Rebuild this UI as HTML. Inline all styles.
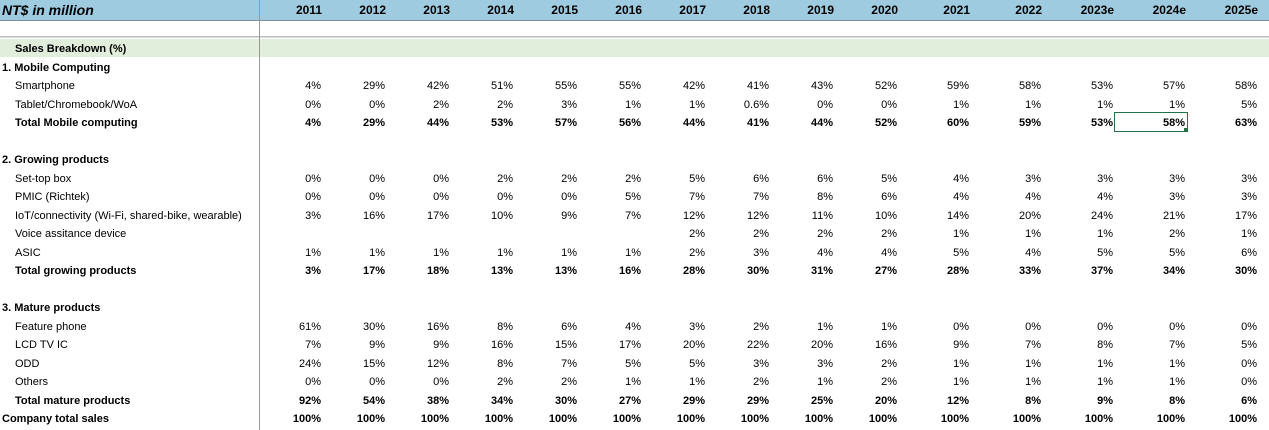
<!DOCTYPE html>
<html><head><meta charset="utf-8"><style>
body{margin:0;width:1269px;height:430px;overflow:hidden;background:#fff;font-family:"Liberation Sans",Arial,sans-serif;position:relative}
.c{position:absolute;font-size:11px;line-height:18px;white-space:nowrap;color:#000}
.b{font-weight:bold}
</style></head><body>
<div style="position:absolute;left:0;top:0;width:1269px;height:20px;background:#9ecbe0;border-bottom:1px solid #7f8f99"></div>
<div style="position:absolute;left:0;top:36px;width:1269px;height:1px;background:#bbb;border-bottom:1px solid #ddd"></div>
<div style="position:absolute;left:0;top:39px;width:1269px;height:18px;background:#e2eedc"></div>
<div style="position:absolute;left:259px;top:0;width:1px;height:430px;background:#999"></div>
<div style="position:absolute;left:1114px;top:112px;width:72px;height:18px;border:1px solid #217346"></div>
<div style="position:absolute;left:1184px;top:128px;width:4px;height:4px;background:#217346"></div>
<div class="c b" style="left:2px;top:1px;font-size:14px;font-style:italic">NT$ in million</div>
<script>
const years=["2011","2012","2013","2014","2015","2016","2017","2018","2019","2020","2021","2022","2023e","2024e","2025e"];
const rowLabels=[["Sales Breakdown (%)",15,1],["1. Mobile Computing",2,1],["Smartphone",15,0],["Tablet/Chromebook/WoA",15,0],["Total Mobile computing",15,1],["",0,0],["2. Growing products",2,1],["Set-top box",15,0],["PMIC (Richtek)",15,0],["IoT/connectivity (Wi-Fi, shared-bike, wearable)",15,0],["Voice assitance device",15,0],["ASIC",15,0],["Total growing products",15,1],["",0,0],["3. Mature products",2,1],["Feature phone",15,0],["LCD TV IC",15,0],["ODD",15,0],["Others",15,0],["Total mature products",15,1],["Company total sales",2,1]];
const smartphone=["4%","29%","42%","51%","55%","55%","42%","41%","43%","52%","59%","58%","53%","57%","58%"];
const tablet=["0%","0%","2%","2%","3%","1%","1%","0.6%","0%","0%","1%","1%","1%","1%","5%"];
const totalMobile=["4%","29%","44%","53%","57%","56%","44%","41%","44%","52%","60%","59%","53%","58%","63%"];
const settop=["0%","0%","0%","2%","2%","2%","5%","6%","6%","5%","4%","3%","3%","3%","3%"];
const pmic=["0%","0%","0%","0%","0%","5%","7%","7%","8%","6%","4%","4%","4%","3%","3%"];
const iot=["3%","16%","17%","10%","9%","7%","12%","12%","11%","10%","14%","20%","24%","21%","17%"];
const voice=["","","","","","","2%","2%","2%","2%","1%","1%","1%","2%","1%"];
const asic=["1%","1%","1%","1%","1%","1%","2%","3%","4%","4%","5%","4%","5%","5%","6%"];
const totalGrowing=["3%","17%","18%","13%","13%","16%","28%","30%","31%","27%","28%","33%","37%","34%","30%"];
const feature=["61%","30%","16%","8%","6%","4%","3%","2%","1%","1%","0%","0%","0%","0%","0%"];
const lcd=["7%","9%","9%","16%","15%","17%","20%","22%","20%","16%","9%","7%","8%","7%","5%"];
const odd=["24%","15%","12%","8%","7%","5%","5%","3%","3%","2%","1%","1%","1%","1%","0%"];
const others=["0%","0%","0%","2%","2%","1%","1%","2%","1%","2%","1%","1%","1%","1%","0%"];
const totalMature=["92%","54%","38%","34%","30%","27%","29%","29%","25%","20%","12%","8%","9%","8%","6%"];
const companyTotal=["100%","100%","100%","100%","100%","100%","100%","100%","100%","100%","100%","100%","100%","100%","100%"];
const rowData={2:smartphone,3:tablet,4:totalMobile,7:settop,8:pmic,9:iot,10:voice,11:asic,12:totalGrowing,15:feature,16:lcd,17:odd,18:others,19:totalMature,20:companyTotal};
function colRight(i){return i<10?321+i*64:897+(i-9)*72;}
function rowTop(r){return 40+r*18.5;}
function add(txt,cls,style){const d=document.createElement('div');d.className=cls;d.textContent=txt;Object.assign(d.style,style);document.body.appendChild(d);return d;}
years.forEach((y,i)=>{const d=add(y,'c b',{right:(1269-colRight(i)-1)+'px',top:'1px',fontSize:'12px'});

});
rowLabels.forEach((l,r)=>{if(!l[0])return;const d=add(l[0],'c'+(l[2]?' b':''),{left:l[1]+'px',top:(rowTop(r))+'px'});


const vals=rowData[r];if(!vals)return;
vals.forEach((v,i)=>{if(!v)return;const c=add(v,'c'+(l[2]?' b':''),{right:(1269-colRight(i))+'px',top:rowTop(r)+'px'});

});});
</script>
</body></html>
